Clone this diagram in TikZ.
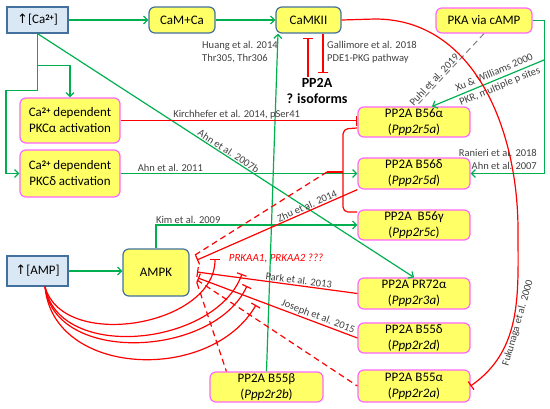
\documentclass[tikz,border=0pt]{standalone}
\usepackage{fontspec}
\setmainfont{Carlito}
\newfontfamily\symfont{DejaVu Sans}
\usetikzlibrary{arrows.meta,calc}
\definecolor{actgreen}{HTML}{00B050}
\definecolor{inhred}{HTML}{FF0000}
\definecolor{boxyellow}{HTML}{FFFF66}
\definecolor{boxblue}{HTML}{DAE8F5}
\definecolor{edgeblue}{HTML}{41719C}
\definecolor{edgepink}{HTML}{FF66FF}
\definecolor{lbltext}{HTML}{404040}
\newcommand{\riseup}{{\symfont\char"2191}}
\newcommand{\twoplus}{\raisebox{0.55ex}{\fontsize{8.5}{8.5}\selectfont\bfseries 2+}}

\begin{document}
\begin{tikzpicture}[x=1pt, y=-1pt,
  every node/.style={font=\fontsize{13}{16}\selectfont},
  level/.style={draw=edgeblue, fill=boxblue, line width=1.2pt, inner sep=0pt},
  kinase/.style={draw=edgeblue, fill=boxyellow, line width=1.2pt, rounded corners=6pt, inner sep=0pt},
  pp/.style={draw=edgepink, fill=boxyellow, line width=1.2pt, rounded corners=6pt, align=center, inner sep=0pt, minimum width=112pt, minimum height=30pt},
  lbl/.style={font=\fontsize{10.5}{13}\selectfont, text=lbltext, inner sep=1pt},
  act/.style={draw=actgreen, line width=1.2pt, -{Straight Barb[length=4pt,width=8pt]}},
  inh/.style={draw=inhred, line width=1.2pt, -{Bar[width=10pt]}},
  rdash/.style={draw=inhred, line width=1.2pt, dash pattern=on 6pt off 4pt},
  ]
  \useasboundingbox (0,0) rectangle (550,408);

  \node[level, minimum width=61pt, minimum height=26pt] (ca) at (37.5,20) {\riseup[Ca\twoplus]};
  \node[kinase, minimum width=66pt, minimum height=26pt] (cam) at (182,20) {CaM+Ca};
  \node[kinase, minimum width=65pt, minimum height=26pt] (camkii) at (308.5,20) {CaMKII};
  \node[pp, minimum width=96pt, minimum height=25pt] (pka) at (484,20.5) {PKA via cAMP};
  \node[pp, minimum width=100pt, minimum height=45pt] (pkca) at (70,120.5) {Ca\twoplus\ dependent\\PKCα activation};
  \node[pp, minimum width=100pt, minimum height=47pt] (pkcd) at (70,173.5) {Ca\twoplus\ dependent\\PKCδ activation};
  \node[level, minimum width=61pt, minimum height=30pt] (amp) at (37.5,271) {\riseup[AMP]};
  \node[kinase, minimum width=66pt, minimum height=47pt] (ampk) at (156,272.5) {AMPK};
  \node[pp] (b56a) at (414,122) {PP2A B56α\\(\textit{Ppp2r5a})};
  \node[pp, minimum height=31pt] (b56d) at (414,173.5) {PP2A B56δ\\(\textit{Ppp2r5d})};
  \node[pp] (b56g) at (414,225) {PP2A\ \ B56γ\\(\textit{Ppp2r5c})};
  \node[pp, minimum height=31pt] (pr72) at (414,293.5) {PP2A PR72α\\(\textit{Ppp2r3a})};
  \node[pp] (b55d) at (414,338) {PP2A B55δ\\(\textit{Ppp2r2d})};
  \node[pp, minimum height=32pt] (b55a) at (414,386) {PP2A B55α\\(\textit{Ppp2r2a})};
  \node[pp, minimum width=113pt] (b55b) at (266.5,387) {PP2A B55β\\(\textit{Ppp2r2b})};
  \node[font=\bfseries\fontsize{14}{16}\selectfont, align=center, inner sep=1pt] (pp2a) at (317,91) {PP2A\\? isoforms};
  \node[font=\itshape\fontsize{11}{13}\selectfont, text=inhred] (prkaa) at (276,258) {PRKAA1, PRKAA2 ???};

  \node[lbl, anchor=north west, align=left] (huang) at (201,40) {Huang et al. 2014\\Thr305, Thr306};
  \node[lbl, anchor=north west, align=left] (galli) at (326,40) {Gallimore et al. 2018\\PDE1-PKG pathway};
  \node[lbl, anchor=south east, align=right] (ranieri) at (538,171) {Ranieri et al. 2018\\Ahn et al. 2007};
  \node[lbl, rotate=74] (fuku) at (518,323) {Fukunaga et al. 2000};

  \coordinate (pkr) at (544,60);
  \coordinate (brtip) at (327,172);
  \coordinate (kdash) at (195,255);
  \coordinate (kzhu) at (197,260);
  \coordinate (kpark) at (197,272);
  \coordinate (kjos) at (198,278);
  \coordinate (kb55a) at (197,280);
  \coordinate (kb55b) at (197,283);
  \coordinate (amps) at ($(amp.south)+(7.5,0)$);

  \draw[act] (ca) -- (cam);
  \draw[act] (cam) -- (camkii);
  \draw[act] (ca.south) -- ++(0,32) -| (pkca.north);
  \draw[act] (ca.south) -- ++(0,57) -- ++(-31.5,0) |- (pkcd.west);
  \draw[act] (ca.south) -- (pr72.north) node[lbl, sloped, above, pos=0.5] {Ahn et al. 2007b};
  \draw[act] (b55b.north) -- ($(camkii.south)+(-30.5,0)$);
  \draw[act] (pkcd.east) -- (pkcd.east -| b56d.west) node[lbl, above, pos=0.21] {Ahn et al. 2011};
  \draw[act] (ampk.north) |- (b56g.west) node[lbl, above, pos=0.58] {Kim et al. 2009};
  \draw[act] (amp.east) -- (amp.east -| ampk.west);
  \draw[act] (pka.east) -- ++(12,0) |- (b56d.east);
  \draw[act] (pkr) -- ($(b56a.north)+(18,0)$)
    node[lbl, sloped, above=2.5pt, pos=0.42] {Xu \& Williams 2000}
    node[lbl, sloped, below=1.5pt, pos=0.42] {PKR, multiple p sites};
  \draw[gray, line width=1pt, dash pattern=on 6pt off 4pt] (pka.south) -- ($(b56a.north)+(2,0)$)
    node[lbl, sloped, above, pos=0.68] {Puhl et al. 2019};

  \draw[inh] (pkca.east) -- (pkca.east -| b56a.west) node[lbl, above, pos=0.49] {Kirchhefer et al. 2014, pSer41};
  \draw[inh] (camkii.east) -- (375,19) to[out=0,in=90] (518,230) to[out=-90,in=35] (b55a.east);
  \draw[inh] ($(pp2a.north)+(-9,0)$) -- ($(camkii.south)+(-0.5,4)$);
  \draw[inh] ($(camkii.south)+(14.5,0)$) -- ($(pp2a.north)+(6,-4)$);

  \draw[inhred, line width=1.2pt, rounded corners=5pt] (357,128) -- (343,129) -- (343,212) -- (357,212);
  \draw[inhred, line width=1.2pt] (343,172) -- (brtip);
  \draw[rdash] (kdash) -- (brtip);
  \draw[inh] (b56d.south west) -- (kzhu) node[lbl, sloped, above, pos=0.3] {Zhu et al. 2014};
  \draw[inh] (pr72.west) -- (kpark) node[lbl, sloped, above, pos=0.37] {Park et al. 2013};
  \draw[inh] (b55d.west) -- (kjos) node[lbl, sloped, above, pos=0.26] {Joseph et al. 2015};
  \draw[rdash] (kb55a) -- (b55a.west);
  \draw[rdash] (kb55b) -- ($(b55b.north west)+(17,0)$);

  \draw[inh] (amps) to[out=-75,in=-90] (215,259);
  \draw[inh] (amps) to[out=-80,in=-110] (242,274);
  \draw[inh] (amps) to[out=-83,in=-115] (247,286);
  \draw[inh] (amps) to[out=-85,in=-120,looseness=1.1] (256,305);
\end{tikzpicture}
\end{document}
